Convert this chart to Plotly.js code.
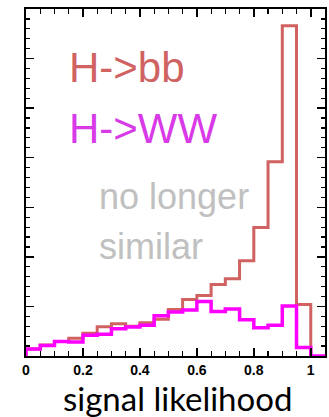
<!DOCTYPE html>
<html>
<head>
<meta charset="utf-8">
<script src="https://cdn.plot.ly/plotly-3.0.1.min.js"></script>
<style>html,body{margin:0;padding:0;background:#fff;}#chart{width:329px;height:417px;}</style>
</head>
<body>
<div id="chart"></div>
<script>
// Bin low edges (width 0.05)
const binLow = [0,0.05,0.1,0.15,0.2,0.25,0.3,0.35,0.4,0.45,0.5,0.55,0.6,0.65,0.7,0.75,0.8,0.85,0.9,0.95,1.0];
const binWidth = 0.05;
// H->bb signal likelihood distribution
const hbb = [0.14,0.22,0.29,0.36,0.46,0.59,0.65,0.60,0.67,0.74,0.94,1.14,1.22,1.44,1.56,1.92,2.59,3.92,6.66,1.04,0];
// H->WW signal likelihood distribution
const hww = [0.14,0.21,0.29,0.28,0.42,0.44,0.55,0.585,0.62,0.81,0.89,0.93,1.10,0.90,0.95,0.73,0.57,0.62,1.01,0.17,0];
const xTickVals = [0,0.2,0.4,0.6,0.8,1];
const xTickText = ['0','0.2','0.4','0.6','0.8','1'];
const xTitle = 'signal likelihood';

function stepTrace(vals, nBins, color, width){
  const x=[0], y=[0];
  for(let i=0;i<nBins;i++){ x.push(binLow[i]); y.push(vals[i]); }
  const end = binLow[nBins-1]+binWidth;
  x.push(end); y.push(vals[nBins-1]);
  x.push(end); y.push(0);
  return {x:x,y:y,type:'scatter',mode:'lines',line:{shape:'hv',color:color,width:width},hoverinfo:'skip',showlegend:false,cliponaxis:true};
}

const traces = [
  stepTrace(hbb, 20, '#d06262', 3),
  stepTrace(hww, 21, '#ff00ff', 3.5)
];

const txt = (t,x,y,size,color)=>({text:t,xref:'paper',yref:'paper',x:x,y:y,xanchor:'left',yanchor:'middle',showarrow:false,font:{family:'Liberation Sans, Arial, sans-serif',size:size,color:color}});

const layout = {
  width:329,height:417,
  margin:{l:26,r:4,t:9,b:61},
  paper_bgcolor:'#fff',plot_bgcolor:'#fff',
  showlegend:false,
  xaxis:{range:[0,1.05],tickvals:xTickVals,ticktext:xTickText,ticks:'inside',ticklen:8,tickwidth:1.5,tickcolor:'#000',
    minor:{ticks:'inside',dtick:0.05,ticklen:5,tickwidth:1.2,tickcolor:'#000'},
    showline:true,linecolor:'#000',linewidth:2,mirror:'allticks',showgrid:false,zeroline:false,
    tickfont:{family:'Liberation Sans, Arial, sans-serif',size:14,color:'#000',weight:'bold'}},
  yaxis:{range:[0,7],dtick:1,ticks:'inside',ticklen:8,tickwidth:1.5,tickcolor:'#000',
    minor:{ticks:'inside',dtick:0.2,ticklen:4,tickwidth:1.2,tickcolor:'#000'},
    showline:true,linecolor:'#000',linewidth:2,mirror:'allticks',showgrid:false,zeroline:false,showticklabels:false},
  annotations:[
    txt('H-&gt;bb',0.138,0.83,42,'#d06262'),
    txt('H-&gt;WW',0.138,0.657,42,'#d83ae8'),
    txt('no longer',0.238,0.461,36,'#c0c0c0'),
    txt('similar',0.238,0.317,36,'#c0c0c0'),
    {text:xTitle,xref:'paper',yref:'paper',x:0.508,y:-0.06,xanchor:'center',yanchor:'top',showarrow:false,borderpad:0,
     font:{family:'Lato, Carlito, sans-serif',size:33,color:'#000'}}
  ]
};
Plotly.newPlot('chart',traces,layout,{displayModeBar:false,staticPlot:true});
</script>
</body>
</html>
